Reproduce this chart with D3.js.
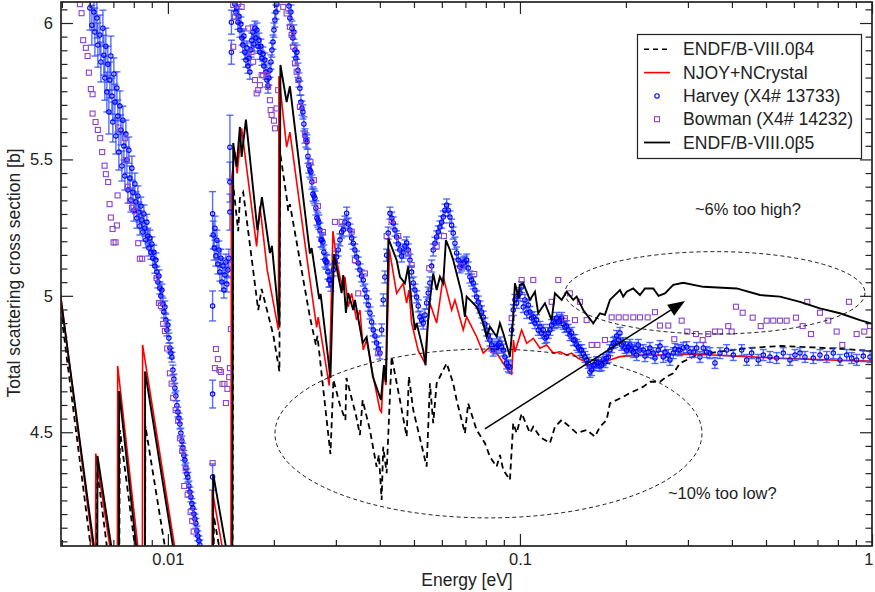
<!DOCTYPE html>
<html><head><meta charset="utf-8">
<script src="https://cdn.jsdelivr.net/npm/d3@7"></script>
<style>body{margin:0;background:#fff}svg{display:block;font-family:"Liberation Sans",Arial,Helvetica,sans-serif}</style>
</head><body><svg id="c" width="875" height="592"></svg>
<script>
// ---------------- data (energy in eV, cross section in barn) ----------------
const beta4 = [[0.00495,4.959],[0.006264,3.915],[0.006304,4.36],[0.007257,3.73],[0.007305,4.508],[0.008603,3.80],[0.008631,4.523],[0.013423,2.99],[0.01351,4.191],[0.01526,3.797],
[0.01533,5.406],[0.015838,5.237],[0.016016,5.358],[0.016365,5.38],[0.018053,4.948],[0.018459,5.025],[0.019914,4.858],[0.02074,4.723],
[0.020807,5.529],[0.02174,5.362],[0.021966,5.311],[0.022213,5.336],[0.025318,4.922],[0.02633,4.82],[0.02659,4.853],[0.028952,4.42],
[0.029527,4.692],[0.030808,4.6],[0.031933,4.545],[0.032145,4.699],[0.034206,4.563],[0.035112,4.49],[0.035737,4.618],[0.037486,4.508],[0.039165,4.373],[0.03976,4.417],[0.04047,4.252],
[0.040893,4.447],[0.041814,4.35],[0.043205,4.777],[0.045613,4.618],[0.04766,4.484],[0.04837,4.704],[0.04976,4.582],[0.05432,4.374],[0.055503,4.679],[0.05671,4.533],[0.05799,4.679],[0.06191,4.753],[0.06464,4.679],[0.06609,4.618],[0.06978,4.496],[0.07128,4.606],[0.07533,4.508],[0.07953,4.46],[0.082178,4.41],[0.08586,4.374],[0.087733,4.417],[0.08965,4.362],[0.093663,4.325],
[0.0957,4.533],[0.09786,4.497],[0.10112,4.569],[0.10676,4.497],[0.10909,4.52],[0.11398,4.483],[0.12168,4.46],[0.12572,4.52],[0.13136,4.545],[0.13869,4.519],[0.1449,4.497],[0.15469,4.508],[0.16332,4.484],[0.16876,4.52],[0.17632,4.545],[0.18016,4.606],[0.18823,4.618],[0.19653,4.63],[0.20535,4.644],[0.21455,4.655],[0.22399,4.667],[0.23404,4.685],[0.24986,4.685],[0.26106,4.704],[0.27257,4.716],[0.28478,4.753],[0.29754,4.765],[0.31764,4.783],[0.3541,4.792],[0.4406,4.808],[0.54776,4.816],[0.681,4.811],[0.8473,4.804],[1.0,4.798]];

const njoy = [[0.00495,5.01],[0.006231,4.006],[0.006239,4.422],[0.007186,3.90],[0.0072,4.743],[0.008463,3.933],[0.008474,4.82],[0.013335,3.22],[0.01336,4.288],[0.0151,3.898],
[0.01515,5.424],[0.0155,5.528],[0.01573,5.449],[0.016195,5.614],[0.017865,5.181],[0.018255,5.329],[0.019148,5.095],[0.020604,4.875],
[0.020672,5.805],[0.02174,5.545],[0.022213,5.6],[0.025037,5.103],[0.026452,4.884],[0.026723,4.922],[0.028725,4.671],
[0.029428,5.237],[0.03015,5.131],[0.030808,5.07],[0.031486,5.021],[0.03183,5.07],[0.032518,4.96],[0.03326,5.009],[0.034363,4.911],[0.035112,4.948],[0.035877,4.802],[0.036686,4.838],[0.038303,4.704],[0.040021,4.582],
[0.04042,4.574],[0.04095,4.72],[0.041622,4.673],[0.042587,5.168],[0.04464,5.009],[0.04661,5.046],[0.04766,4.973],[0.04837,5.021],[0.04924,4.90],[0.0514,4.80],[0.05371,4.753],[0.05432,4.85],[0.055503,4.973],[0.05799,4.90],[0.06054,5.07],[0.06191,5.021],[0.06397,4.948],[0.06536,4.985],[0.06901,4.875],[0.07056,4.923],[0.07533,4.85],[0.07865,4.79],[0.082178,4.813],[0.08586,4.79],[0.08965,4.753],[0.093663,4.716],[0.0947,4.713],
[0.09586,4.838],[0.09677,4.794],[0.10112,4.875],[0.10448,4.826],[0.10909,4.844],[0.11398,4.808],[0.11909,4.82],[0.12433,4.79],[0.12991,4.795],[0.13573,4.783],[0.14024,4.79],[0.14639,4.771],[0.15298,4.759],[0.15628,4.734],[0.16152,4.753],[0.16876,4.759],[0.18016,4.765],[0.19234,4.777],[0.21922,4.783],[0.24986,4.783],[0.28478,4.787],[0.35337,4.783],[0.4406,4.777],[0.54776,4.771],[0.6797,4.767],[0.8829,4.762],[1.0,4.761]];

const beta5 = [[0.00495,5.00],[0.00630,3.99],[0.00631,4.413],[0.007257,3.90],[0.00727,4.651],[0.008603,3.794],[0.008614,4.723],[0.013423,3.165],[0.01345,4.346],[0.01523,3.949],
[0.01533,5.56],[0.015674,5.473],[0.016016,5.619],[0.016195,5.509],[0.016657,5.646],[0.01796,5.241],[0.018495,5.362],[0.019489,5.157],[0.019746,5.183],[0.02074,4.893],
[0.020875,5.846],[0.02174,5.71],[0.022213,5.768],[0.025318,5.155],[0.025602,5.175],[0.026906,4.988],[0.027153,5.007],[0.028952,4.699],
[0.029625,5.153],[0.031153,5.01],[0.031486,5.076],[0.03204,4.937],[0.032518,5.01],[0.03361,4.948],[0.033982,4.985],[0.035737,4.827],[0.036686,4.849],[0.038228,4.702],[0.040284,4.618],[0.041082,4.746],[0.041622,4.684],
[0.0423,5.21],[0.04464,5.131],[0.045613,5.07],[0.04713,5.046],[0.04814,5.107],[0.04924,4.973],[0.05031,4.875],[0.05088,4.90],[0.05312,4.80],[0.05395,4.746],[0.05467,4.887],[0.055503,4.985],[0.05671,5.082],[0.05799,5.021],[0.059254,5.07],[0.06054,5.046],[0.06162,5.204],[0.06326,5.168],[0.06464,5.131],[0.06609,5.082],[0.06829,5.009],[0.06978,4.923],[0.07056,4.997],[0.0721,4.985],[0.07533,4.96],[0.07865,4.90],[0.08042,4.85],[0.082178,4.887],[0.08586,4.85],[0.087733,4.90],[0.08965,4.863],[0.093663,4.777],
[0.0957,4.923],[0.09677,5.046],[0.0992,4.99],[0.0998,5.04],[0.10218,5.046],[0.10676,4.985],[0.11031,5.015],[0.11269,4.936],[0.11777,4.973],[0.12304,4.911],[0.12572,5.009],[0.13136,4.985],[0.13573,5.015],[0.14171,4.985],[0.1449,4.997],[0.15129,4.948],[0.16152,4.899],[0.16876,4.936],[0.17437,4.93],[0.18016,4.985],[0.18409,4.997],[0.19234,5.021],[0.1965,4.997],[0.20096,5.015],[0.20983,5.027],[0.21922,5.003],[0.2265,5.027],[0.23914,5.027],[0.2475,5.0],[0.25816,5.009],[0.27257,5.04],[0.29099,5.048],[0.33165,5.033],[0.41262,5.027],[0.4806,5.003],[0.54776,4.997],[0.6243,4.978],[0.7115,4.954],[0.811,4.936],[0.9243,4.911],[1.0,4.898]];

// Harvey: [energy, cross section, error]
const harveyLow = [[0.006003,6.055,0.081],[0.006082,5.992,0.073],[0.006162,6.040,0.066],[0.006203,5.967,0.088],[0.006284,6.018,0.073],[0.006326,5.919,0.081],[0.006409,5.956,0.073],[0.006451,5.857,0.073],[0.006536,5.981,0.066],[0.006579,5.882,0.073],[0.006622,5.798,0.081],[0.006665,5.915,0.066],[0.006709,5.747,0.073],[0.006753,5.849,0.066],[0.006797,5.674,0.081],[0.006842,5.791,0.066],[0.006887,5.879,0.073],[0.006932,5.732,0.066],[0.006977,5.637,0.073],[0.007023,5.813,0.059],[0.00707,5.710,0.066],[0.007116,5.586,0.066],[0.007163,5.762,0.059],[0.00721,5.659,0.059],[0.007257,5.527,0.066],[0.007305,5.696,0.055],[0.007353,5.608,0.055],[0.007401,5.476,0.055],[0.00745,5.644,0.051],[0.007499,5.549,0.051],[0.007548,5.439,0.051],[0.007598,5.593,0.051],[0.007648,5.498,0.048],[0.007698,5.388,0.048],[0.007748,5.534,0.048],[0.007799,5.432,0.044],[0.00785,5.351,0.044],[0.007902,5.468,0.044],[0.007954,5.380,0.04],[0.008006,5.314,0.04],[0.008059,5.410,0.04],[0.008112,5.344,0.037],[0.008165,5.285,0.037],[0.008219,5.366,0.037],[0.008272,5.307,0.037],[0.008326,5.256,0.033],[0.008381,5.329,0.033],[0.008436,5.278,0.033],[0.008491,5.234,0.033],[0.008547,5.300,0.033],[0.008603,5.248,0.029],[0.008659,5.205,0.029],[0.008716,5.270,0.029],[0.008773,5.219,0.029],[0.008831,5.175,0.029],[0.008889,5.212,0.029],[0.008947,5.160,0.026],[0.009006,5.190,0.026],[0.009065,5.138,0.026],[0.009124,5.160,0.026],[0.009184,5.109,0.026],[0.009245,5.131,0.026],[0.009305,5.087,0.022],[0.009366,5.051,0.022],[0.009428,5.073,0.022],[0.00949,5.029,0.022],[0.009552,4.999,0.022],[0.009615,5.021,0.022],[0.009678,4.970,0.022],[0.009741,4.941,0.022],[0.009805,4.959,0.022],[0.00987,4.911,0.022],[0.009935,4.875,0.022],[0.01,4.893,0.018],[0.010066,4.845,0.018],[0.010132,4.809,0.018],[0.010198,4.790,0.018],[0.010265,4.775,0.018],[0.010332,4.728,0.018],[0.0104,4.695,0.018],[0.010468,4.662,0.018],[0.010537,4.633,0.018],[0.010606,4.598,0.018],[0.010675,4.574,0.018],[0.010746,4.552,0.018],[0.010817,4.530,0.018],[0.010888,4.497,0.018],[0.010959,4.468,0.018],[0.011031,4.442,0.018],[0.011103,4.415,0.018],[0.011176,4.398,0.018],[0.011249,4.369,0.018],[0.011323,4.347,0.018],[0.011397,4.335,0.018],[0.011472,4.303,0.018],[0.011548,4.281,0.018],[0.011623,4.263,0.018],[0.0117,4.238,0.018],[0.011776,4.222,0.018],[0.011853,4.200,0.018],[0.011931,4.182,0.018],[0.012009,4.166,0.018],[0.012088,4.138,0.018],[0.012167,4.120,0.018],[0.012247,4.102,0.018],[0.012328,4.087,0.018]];
const harveyMid = [[0.013396,5.301,0.081],[0.013396,4.963,0.055],[0.013396,4.640,0.051],[0.013396,4.336,0.048],[0.013449,5.223,0.051],[0.013537,5.175,0.044],[0.0136,5.248,0.044],[0.013689,5.146,0.037],[0.013779,5.204,0.037],[0.013869,5.117,0.037],[0.01396,5.168,0.033],[0.014052,5.087,0.033],[0.014144,5.138,0.033],[0.014237,5.051,0.033],[0.01433,5.109,0.029],[0.014424,5.021,0.029],[0.014518,5.076,0.029],[0.014613,5.124,0.029],[0.014709,5.043,0.029],[0.014805,5.095,0.029],[0.014904,5.138,0.033],[0.015002,5.545,0.117],[0.015002,5.417,0.073],[0.015002,5.307,0.066],[0.01515,6.003,0.044],[0.01515,5.893,0.044],
[0.0155,6.069,0.026],[0.0156,6.040,0.026],[0.0157,6.055,0.026],[0.01581,6.003,0.026],[0.01591,6.025,0.026],[0.01602,5.974,0.026],[0.01612,5.996,0.026],[0.01623,5.945,0.026],[0.01633,5.919,0.026],[0.01644,5.952,0.026],[0.01655,5.893,0.026],[0.01666,5.864,0.026],[0.01677,5.908,0.026],[0.01688,5.842,0.026],[0.01699,5.871,0.026],[0.0171,5.820,0.026],[0.01721,5.901,0.026],[0.01732,5.937,0.026],[0.01744,5.967,0.026],[0.01755,5.923,0.026],[0.01767,5.981,0.026],[0.01778,5.945,0.026],[0.0179,5.974,0.026],[0.01802,5.915,0.026],[0.01814,5.937,0.026],[0.01826,5.893,0.026],[0.01837,5.915,0.026],[0.0185,5.871,0.026],[0.01862,5.886,0.026],[0.01874,5.842,0.026],[0.01886,5.864,0.026],[0.01899,5.820,0.026],[0.01911,5.791,0.026],[0.01924,5.769,0.026],[0.01936,5.798,0.026],[0.01949,5.827,0.026],[0.01962,5.857,0.026],[0.01975,5.901,0.026],[0.01988,5.930,0.026],[0.02001,5.974,0.026],[0.02014,6.011,0.026],[0.02027,6.040,0.026],[0.0204,6.069,0.026],
[0.02207,6.062,0.026],[0.02221,6.018,0.026],[0.02236,6.040,0.026],[0.02251,5.981,0.026],[0.02265,5.945,0.026],[0.0228,5.967,0.026],[0.02295,5.901,0.026],[0.0231,5.871,0.026],[0.02325,5.893,0.026],[0.02341,5.827,0.026],[0.02356,5.791,0.026],[0.02371,5.761,0.026],[0.02387,5.710,0.026],[0.02403,5.688,0.026],[0.02418,5.674,0.026],[0.02434,5.630,0.026],[0.0245,5.586,0.026],[0.02466,5.571,0.026],[0.02483,5.564,0.026],[0.02499,5.512,0.026],[0.02515,5.476,0.026],[0.02532,5.461,0.026],[0.02548,5.454,0.026],[0.02565,5.417,0.026],[0.02582,5.373,0.026],[0.02599,5.366,0.026],[0.02616,5.358,0.026],[0.02633,5.322,0.026],[0.0265,5.285,0.026],[0.02668,5.278,0.026],[0.02685,5.270,0.026],[0.02703,5.241,0.026],[0.02721,5.205,0.026],[0.02738,5.205,0.026],[0.02756,5.197,0.026],[0.02774,5.160,0.026],[0.02793,5.131,0.026],[0.02811,5.124,0.026],[0.0283,5.124,0.026],[0.02848,5.087,0.026],[0.02867,5.058,0.026],[0.02886,5.058,0.026],[0.02905,5.043,0.026]];
const harveyHigh = [[0.02949,5.095,0.022],[0.02982,5.124,0.022],[0.03015,5.142,0.022],[0.03047,5.168,0.022],[0.03081,5.205,0.022],[0.03115,5.234,0.022],[0.03148,5.241,0.022],[0.03183,5.270,0.022],[0.03219,5.303,0.022],[0.03253,5.263,0.022],[0.03289,5.241,0.022],[0.03326,5.212,0.022],[0.03361,5.193,0.022],[0.03398,5.168,0.022],[0.03436,5.142,0.022],[0.03473,5.120,0.022],[0.03511,5.095,0.022],[0.0355,5.073,0.022],[0.03588,5.058,0.022],[0.03628,5.021,0.022],[0.03668,4.996,0.022],[0.03707,4.966,0.022],[0.03749,4.937,0.022],[0.0379,4.904,0.022],[0.0383,4.875,0.022],[0.03873,4.853,0.022],[0.03916,4.827,0.022],[0.03958,4.805,0.022],[0.04002,4.790,0.022],[0.04047,4.875,0.022],[0.0409,4.985,0.022],[0.04135,5.069,0.022],[0.04181,5.149,0.022],[0.04225,5.230,0.022],[0.04273,5.303,0.022],[0.0432,5.285,0.022],[0.04366,5.267,0.022],[0.04415,5.241,0.022],[0.04464,5.216,0.022],[0.04511,5.190,0.022],[0.04561,5.168,0.022],[0.04612,5.146,0.022],[0.04661,5.160,0.022],[0.04713,5.183,0.022],[0.04766,5.194,0.022],[0.04816,5.168,0.022],[0.0487,5.131,0.022],[0.04924,5.087,0.022],[0.04976,5.047,0.022],[0.05032,5.021,0.022],[0.05088,4.996,0.022],[0.05141,4.963,0.022],[0.05199,4.922,0.022],[0.05257,4.911,0.022],[0.05312,4.900,0.022],[0.05372,4.930,0.022],[0.05432,4.974,0.022],[0.05489,5.010,0.022],[0.0555,5.047,0.022],[0.05612,5.109,0.022],[0.05671,5.168,0.022],[0.05735,5.193,0.022],[0.05799,5.216,0.022],[0.0586,5.234,0.022],[0.05925,5.252,0.022],[0.05992,5.270,0.022],[0.06055,5.289,0.022],[0.06122,5.314,0.022],[0.06191,5.333,0.022],[0.06256,5.314,0.022],[0.06326,5.289,0.022],[0.06397,5.259,0.022],[0.06464,5.230,0.022],[0.06536,5.193,0.022],[0.06609,5.157,0.022],[0.06679,5.131,0.022],[0.06754,5.106,0.022],[0.06829,5.113,0.022],[0.06901,5.120,0.022],[0.06978,5.124,0.022],[0.07056,5.131,0.022],[0.0713,5.102,0.022],[0.0721,5.069,0.022],[0.07291,5.058,0.022],[0.07367,5.047,0.022],[0.0745,5.021,0.022],[0.07533,4.996,0.022],[0.07612,4.977,0.022],[0.07697,4.959,0.022],[0.07783,4.941,0.022],[0.07866,4.922,0.022],[0.07953,4.897,0.022],[0.08042,4.875,0.022],[0.08127,4.856,0.022],[0.08218,4.838,0.022],[0.0831,4.820,0.022],[0.08397,4.801,0.022],[0.08491,4.809,0.022],[0.08586,4.812,0.022],[0.08676,4.820,0.022],[0.08773,4.827,0.022],[0.08871,4.812,0.022],[0.08965,4.801,0.022],[0.09065,4.776,0.022],[0.09166,4.754,0.022],[0.09263,4.743,0.022],[0.09366,4.739,0.022],
[0.09471,4.875,0.02],[0.09571,4.948,0.02],[0.09678,4.985,0.02],[0.09786,4.974,0.02],[0.09889,5.003,0.02],[0.1,5.010,0.02],[0.10112,5.032,0.02],[0.10218,4.959,0.02],[0.10332,4.985,0.02],[0.10448,4.937,0.02],[0.10558,4.966,0.02],[0.10676,4.941,0.02],[0.10795,4.919,0.02],[0.10909,4.922,0.02],[0.11031,4.900,0.02],[0.11154,4.911,0.02],[0.11272,4.875,0.02],[0.11398,4.886,0.02],[0.11525,4.864,0.02],[0.11647,4.875,0.02],[0.11777,4.845,0.02],[0.11909,4.849,0.02],[0.12034,4.864,0.02],[0.12168,4.875,0.02],[0.12304,4.893,0.02],[0.12434,4.904,0.02],[0.12573,4.900,0.02],[0.12713,4.919,0.02],[0.12847,4.904,0.02],[0.12991,4.911,0.02],[0.13136,4.919,0.02],[0.13274,4.897,0.02],[0.13423,4.886,0.02],[0.13573,4.889,0.02],[0.13716,4.875,0.02],[0.13869,4.856,0.02],[0.14024,4.864,0.02],[0.14172,4.838,0.02],[0.1433,4.838,0.02],[0.1449,4.820,0.02],[0.14643,4.812,0.02],[0.14806,4.801,0.02],[0.14971,4.801,0.02],[0.15129,4.787,0.02],[0.15298,4.776,0.02],[0.15469,4.765,0.02],[0.15632,4.754,0.02],[0.15807,4.721,0.02],[0.15984,4.728,0.02],[0.16152,4.746,0.02],[0.16332,4.746,0.02],[0.16515,4.757,0.02],[0.16689,4.754,0.02],[0.16876,4.743,0.02],[0.17065,4.746,0.02],[0.17244,4.765,0.02],[0.17437,4.757,0.02],[0.17632,4.772,0.02],[0.17818,4.776,0.02],[0.18016,4.801,0.02],[0.18217,4.812,0.02],[0.18409,4.827,0.02],[0.18615,4.831,0.02],[0.18823,4.853,0.02],[0.19021,4.838,0.02],[0.19234,4.864,0.02],[0.19449,4.820,0.02],[0.19654,4.827,0.02],[0.19873,4.809,0.02],[0.20096,4.801,0.02],[0.20307,4.812,0.02],[0.20535,4.820,0.02],[0.20765,4.801,0.02],[0.20983,4.794,0.02],[0.21217,4.809,0.02],[0.21455,4.783,0.02],[0.21681,4.820,0.02],[0.21922,4.801,0.02],[0.224,4.801,0.02],[0.22651,4.779,0.02],[0.23145,4.794,0.02],[0.23404,4.809,0.02],[0.23915,4.790,0.02],[0.24182,4.772,0.02],[0.2471,4.801,0.02],[0.24986,4.816,0.02],[0.25531,4.776,0.02],[0.25816,4.794,0.02],[0.2638,4.783,0.02],[0.26675,4.765,0.02],[0.27257,4.790,0.02],[0.27561,4.805,0.02],[0.28163,4.801,0.02],[0.28478,4.801,0.02],[0.291,4.809,0.02],[0.29754,4.812,0.02],[0.30402,4.794,0.02],[0.31066,4.794,0.02],[0.31764,4.809,0.02],[0.32457,4.776,0.02],[0.33166,4.809,0.02],[0.33911,4.794,0.02],[0.34651,4.790,0.02],[0.35803,4.754,0.02],[0.36993,4.790,0.02],[0.3865,4.801,0.02],[0.40356,4.783,0.02],[0.42642,4.801,0.02],[0.44059,4.765,0.02],[0.4552,4.790,0.02],[0.47526,4.765,0.02],[0.49108,4.783,0.02],[0.51308,4.776,0.02],[0.53606,4.772,0.02],[0.55971,4.790,0.02],[0.58478,4.765,0.02],[0.60421,4.783,0.02],[0.6243,4.790,0.02],[0.64505,4.776,0.02],[0.68104,4.772,0.02],[0.7115,4.783,0.02],[0.74336,4.776,0.02],[0.7762,4.790,0.02],[0.811,4.765,0.02],[0.84733,4.783,0.02],[0.87548,4.772,0.02],[0.90457,4.765,0.02],[0.94448,4.779,0.02],[0.987,4.776,0.02]];

const bowman = [[0.005623,6.069],[0.005686,6.036],[0.005746,5.937],[0.005848,5.909],[0.005914,5.879],[0.005964,5.818],[0.006042,5.758],[0.00611,5.739],[0.00611,5.668],[0.006231,5.637],[0.006326,5.608],[0.006422,5.578],[0.006506,5.527],[0.006608,5.477],[0.006665,5.446],[0.006766,5.417],[0.006828,5.336],[0.006887,5.287],[0.006964,5.245],[0.007009,5.196],[0.007102,5.196],[0.007163,5.258],[0.007196,5.368],[0.007225,5.617],[0.007548,5.578],[0.007598,5.498],[0.007698,5.400],[0.007799,5.348],[0.007902,5.323],[0.008059,5.310],[0.008236,5.193],[0.008326,5.136],[0.008452,5.136],[0.009288,5.065],[0.009428,4.974],[0.009552,4.963],[0.009697,4.897],[0.009805,4.871],[0.009955,4.807],[0.010132,4.716],[0.010245,4.678],[0.010352,4.626],[0.010516,4.581],[0.010696,4.542],[0.010817,4.478],[0.010981,4.432],[0.011125,4.303],[0.011227,4.368],[0.011375,4.271],[0.011601,4.207],[0.011723,4.175],[0.01183,4.136],
[0.013396,4.387],[0.0136,4.735],[0.013689,4.805],[0.013869,4.768],[0.014006,4.728],[0.014144,4.721],[0.014284,4.677],[0.014471,4.677],[0.014613,4.607],[0.014757,4.659],[0.014933,4.702],[0.015002,4.735],[0.0151,4.878],
[0.01533,6.066],[0.0155,6.023],[0.01533,5.913],[0.01584,6.069],[0.016195,6.059],[0.01691,5.98],[0.01729,5.894],[0.01747,5.858],[0.01767,5.791],[0.01787,5.742],[0.01805,5.754],[0.018255,5.772],[0.01846,5.809],[0.01865,5.809],[0.01907,5.809],[0.01927,5.766],[0.019489,5.717],[0.01958,5.681],[0.01971,5.663],[0.02001,5.642],[0.02014,5.614],[0.02036,5.687],[0.02057,5.754],[0.02126,6.059],[0.02174,6.035],[0.02221,5.986],[0.02246,5.956],[0.02271,5.913],[0.02295,5.852],[0.02321,5.821],[0.02346,5.791],[0.02371,5.693],[0.0245,5.595],[0.02477,5.571],[0.0254,5.49],[0.02599,5.424],[0.02668,5.329],[0.02756,5.234],
[0.02982,5.271],[0.03115,5.271],[0.03326,5.235],[0.03398,5.131],[0.03473,5.009],[0.03628,5.082],[0.03958,4.789],[0.04181,5.219],[0.0432,5.278],[0.04511,5.219],[0.04816,5.156],[0.04924,5.113],[0.05525,5.101],[0.05799,5.18],[0.06083,5.219],[0.06829,5.109],[0.07416,5.08],[0.08397,4.801],[0.09471,4.918],[0.10112,5.058],
[0.10909,5.058],[0.12847,5.058],[0.12304,4.978],[0.13869,5.009],[0.14806,4.978],[0.13423,4.918],[0.1433,4.911],[0.15469,4.911],[0.15984,4.82],[0.16594,4.82],[0.17437,4.838],[0.18217,4.921],[0.19074,4.921],[0.19969,4.921],[0.20983,4.921],[0.21922,4.921],[0.23051,4.921],[0.24182,4.94],[0.24986,4.891],[0.2638,4.891],[0.27437,4.841],[0.28797,4.909],[0.29873,4.869],[0.31618,4.86],[0.33035,4.838],[0.34268,4.86],[0.35803,4.869],[0.36993,4.869],[0.39057,4.889],[0.39935,4.869],[0.41073,4.96],[0.4292,4.938],[0.45818,4.92],[0.48281,4.889],[0.50213,4.909],[0.52427,4.909],[0.54776,4.909],[0.5723,4.909],[0.60817,4.92],[0.63541,4.889],[0.65489,4.978],[0.67087,4.86],[0.7115,4.938],[0.7512,4.909],[0.79363,4.869],[0.82333,4.82],[0.86015,4.978],[0.90457,4.86],[0.95074,4.869],[0.987,4.889]];

const xTickValues = [0.01, 0.1, 1];
const xTickLabels = ["0.01", "0.1", "1"];
const yTickValues = [4.5, 5, 5.5, 6];
const yTickLabels = ["4.5", "5", "5.5", "6"];
const legendLabels = ["ENDF/B-VIII.0\u03B24", "NJOY+NCrystal", "Harvey (X4# 13733)", "Bowman (X4# 14232)", "ENDF/B-VIII.0\u03B25"];
// annotation ellipses: [Emin, Emax, xsMin, xsMax]
const ellipseHigh = [0.1342, 0.955, 4.860, 5.162];
const ellipseLow = [0.02014, 0.3289, 4.186, 4.805];
const arrowFrom = [0.0795, 4.512], arrowTo = [0.2943, 4.981];
const noteHigh = {E: 0.3141, xs: 5.296, text: "~6% too high?"};
const noteLow = {E: 0.2633, xs: 4.255, text: "~10% too low?"};

// ---------------- drawing ----------------
const L = 61, R = 872, T = 2, B = 546;
const x = d3.scaleLog().domain([0.00497, 1]).range([L, R]);
const y = d3.scaleLinear().domain([4.083, 6.077]).range([B, T]);
const svg = d3.select("#c");
const INK = "#222";
svg.append("rect").attr("width", 875).attr("height", 592).attr("fill", "#fff");
svg.append("defs").append("clipPath").attr("id", "clip").append("rect")
  .attr("x", L).attr("y", T).attr("width", R - L).attr("height", B - T);
const g = svg.append("g").attr("clip-path", "url(#clip)");
const line = d3.line().x(d => x(d[0])).y(d => y(d[1]));

g.append("path").datum(beta4).attr("d", line).attr("fill", "none").attr("stroke", "#000")
  .attr("stroke-width", 1.8).attr("stroke-dasharray", "6,4");
g.append("path").datum(njoy).attr("d", line).attr("fill", "none").attr("stroke", "#ff0000").attr("stroke-width", 1.6);

const harvey = harveyLow.concat(harveyMid, harveyHigh);
const hg = g.append("g");
const BAR = "#2a48ff";
hg.selectAll("line.bar").data(harvey).join("line").attr("class", "bar")
  .attr("x1", d => x(d[0])).attr("x2", d => x(d[0]))
  .attr("y1", d => y(d[1] - d[2])).attr("y2", d => y(d[1] + d[2]))
  .attr("stroke", BAR).attr("stroke-opacity", 0.8).attr("stroke-width", 1.4);
["lo", "hi"].forEach((k, i) => {
  hg.selectAll("line.cap" + k).data(harvey).join("line").attr("class", "cap" + k)
    .attr("x1", d => x(d[0]) - 3.5).attr("x2", d => x(d[0]) + 3.5)
    .attr("y1", d => y(d[1] + (i ? d[2] : -d[2]))).attr("y2", d => y(d[1] + (i ? d[2] : -d[2])))
    .attr("stroke", BAR).attr("stroke-opacity", 0.8).attr("stroke-width", 1.4);
});
hg.selectAll("circle").data(harvey).join("circle")
  .attr("cx", d => x(d[0])).attr("cy", d => y(d[1])).attr("r", 2.2)
  .attr("fill", "none").attr("stroke", "#0000ff").attr("stroke-width", 1.1);

g.append("g").selectAll("rect").data(bowman).join("rect")
  .attr("x", d => x(d[0]) - 2.5).attr("y", d => y(d[1]) - 2.5).attr("width", 5).attr("height", 5)
  .attr("fill", "none").attr("stroke", "#8a44cc").attr("stroke-width", 1.1);

g.append("path").datum(beta5).attr("d", line).attr("fill", "none").attr("stroke", "#000").attr("stroke-width", 1.9);

// annotations
function ell(e) {
  const x0 = x(e[0]), x1 = x(e[1]), y0 = y(e[3]), y1 = y(e[2]);
  g.append("ellipse").attr("cx", (x0 + x1) / 2).attr("cy", (y0 + y1) / 2)
    .attr("rx", (x1 - x0) / 2).attr("ry", (y1 - y0) / 2)
    .attr("fill", "none").attr("stroke", "#000").attr("stroke-width", 0.9).attr("stroke-dasharray", "4,3");
}
ell(ellipseHigh); ell(ellipseLow);
{
  const ax = x(arrowFrom[0]), ay = y(arrowFrom[1]), bx = x(arrowTo[0]), by = y(arrowTo[1]);
  const ang = Math.atan2(by - ay, bx - ax), hl = 17, hw = 6.5;
  const cx = bx - hl * Math.cos(ang), cy = by - hl * Math.sin(ang);
  g.append("line").attr("x1", ax).attr("y1", ay).attr("x2", cx).attr("y2", cy).attr("stroke", "#000").attr("stroke-width", 1.5);
  g.append("path").attr("d", `M${bx},${by}L${cx - hw * Math.sin(ang)},${cy + hw * Math.cos(ang)}L${cx + hw * Math.sin(ang)},${cy - hw * Math.cos(ang)}Z`).attr("fill", "#000");
}
[noteHigh, noteLow].forEach(n => {
  svg.append("text").attr("x", x(n.E)).attr("y", y(n.xs)).attr("font-size", 16.5).attr("fill", "#222").text(n.text);
});

// axes
const minorX = [];
[0.001, 0.01, 0.1].forEach(d => { for (let k = 2; k <= 9; k++) { const v = k * d; if (v >= 0.00497 && v < 1) minorX.push(v); } });
const minorY = d3.range(82, 122).map(i => +(i * 0.05).toFixed(2)).filter(v => v > 4.083 && v < 6.077 && !yTickValues.includes(v));

function style(sel) { sel.select(".domain").remove(); sel.selectAll("line").attr("stroke", INK).attr("stroke-width", 1.2); sel.selectAll("text").attr("fill", "#222").attr("font-size", 16.5).attr("font-family", '"Liberation Sans",Arial,sans-serif'); }
const bottomAxis = svg.append("g").attr("transform", `translate(0,${B})`).call(d3.axisBottom(x).tickValues(xTickValues).tickFormat((d, i) => xTickLabels[i]).tickSize(-12).tickPadding(7)).call(style);
// keep the last label ("1") inside the picture: it sits at the right edge of the reference
bottomAxis.selectAll(".tick text").filter(d => d === 1).attr("text-anchor", "end").attr("dx", "0.05em");
svg.append("g").attr("transform", `translate(0,${B})`).call(d3.axisBottom(x).tickValues(minorX).tickFormat("").tickSize(-6)).call(style);
svg.append("g").attr("transform", `translate(0,${T})`).call(d3.axisTop(x).tickValues(xTickValues).tickFormat("").tickSize(-12)).call(style);
svg.append("g").attr("transform", `translate(0,${T})`).call(d3.axisTop(x).tickValues(minorX).tickFormat("").tickSize(-6)).call(style);
svg.append("g").attr("transform", `translate(${L},0)`).call(d3.axisLeft(y).tickValues(yTickValues).tickFormat((d, i) => yTickLabels[i]).tickSize(-12).tickPadding(8)).call(style);
svg.append("g").attr("transform", `translate(${L},0)`).call(d3.axisLeft(y).tickValues(minorY).tickFormat("").tickSize(-6.5)).call(style);
svg.append("g").attr("transform", `translate(${R},0)`).call(d3.axisRight(y).tickValues(yTickValues).tickFormat("").tickSize(-12)).call(style);
svg.append("g").attr("transform", `translate(${R},0)`).call(d3.axisRight(y).tickValues(minorY).tickFormat("").tickSize(-6.5)).call(style);
svg.append("rect").attr("x", L).attr("y", T).attr("width", R - L).attr("height", B - T)
  .attr("fill", "none").attr("stroke", INK).attr("stroke-width", 1.7);

svg.append("text").attr("x", 467).attr("y", 586).attr("text-anchor", "middle").attr("font-size", 17.5).attr("fill", "#222").text("Energy [eV]");
svg.append("text").attr("transform", "translate(20,273) rotate(-90)").attr("text-anchor", "middle").attr("font-size", 17.5).attr("fill", "#222").text("Total scattering cross section [b]");

// legend
const lg = svg.append("g");
lg.append("rect").attr("x", 637.5).attr("y", 34.5).attr("width", 224).attr("height", 124).attr("fill", "#fff").attr("stroke", "#222").attr("stroke-width", 1.2);
legendLabels.forEach((t, i) => {
  const cy = 49.3 + i * 23.3;
  lg.append("text").attr("x", 683).attr("y", cy + 6).attr("font-size", 17.6).attr("fill", "#222").text(t);
});
const ly = i => 49.3 + i * 23.3;
lg.append("line").attr("x1", 644).attr("x2", 670).attr("y1", ly(0)).attr("y2", ly(0)).attr("stroke", "#000").attr("stroke-width", 1.6).attr("stroke-dasharray", "5,4");
lg.append("line").attr("x1", 644).attr("x2", 670).attr("y1", ly(1)).attr("y2", ly(1)).attr("stroke", "#ff0000").attr("stroke-width", 1.6);
lg.append("circle").attr("cx", 657).attr("cy", ly(2)).attr("r", 2.2).attr("fill", "none").attr("stroke", "#0000ff").attr("stroke-width", 1.1);
lg.append("rect").attr("x", 654.5).attr("y", ly(3) - 2.5).attr("width", 5).attr("height", 5).attr("fill", "none").attr("stroke", "#8a44cc").attr("stroke-width", 1.1);
lg.append("line").attr("x1", 644).attr("x2", 670).attr("y1", ly(4)).attr("y2", ly(4)).attr("stroke", "#000").attr("stroke-width", 1.8);
</script></body></html>
